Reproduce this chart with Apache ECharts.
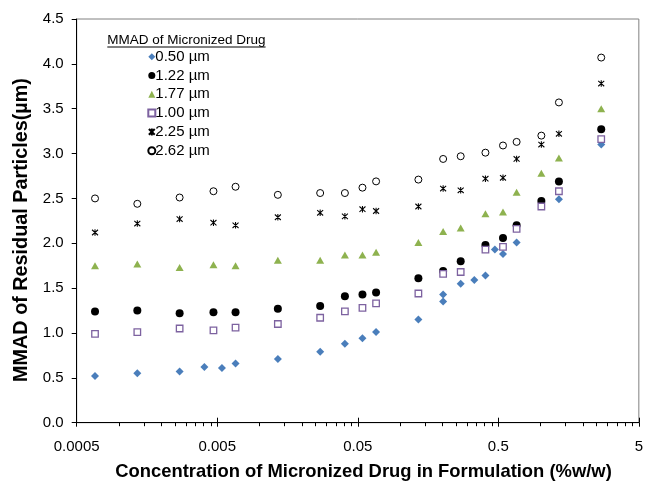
<!DOCTYPE html>
<html><head><meta charset="utf-8">
<script src="https://cdn.jsdelivr.net/npm/echarts@6/dist/echarts.min.js"></script>
<style>html,body{margin:0;padding:0;background:#fff}#c{width:646px;height:482px}</style>
</head><body><div id="c"></div>
<script>
// ---- data ----
const xTickLabels = ['0.0005', '0.005', '0.05', '0.5', '5'];
const yTickLabels = ['0.0', '0.5', '1.0', '1.5', '2.0', '2.5', '3.0', '3.5', '4.0', '4.5'];
const seriesNames = ['0.50 µm', '1.22 µm', '1.77 µm', '1.00 µm', '2.25 µm', '2.62 µm'];

// concentration (%w/w) for the 0.50 µm series
const conc050 = [0.000675, 0.00135, 0.0027, 0.00405, 0.0054, 0.00675, 0.0135, 0.027, 0.0405, 0.054, 0.0675,
  0.135, 0.2025, 0.2025, 0.27, 0.3375, 0.405, 0.4725, 0.54, 0.675, 1.35, 2.7];
// concentration (%w/w) for the other series
const concOther = [0.000675, 0.00135, 0.0027, 0.0047, 0.00675, 0.0135, 0.027, 0.0405, 0.054, 0.0675,
  0.135, 0.2025, 0.27, 0.405, 0.54, 0.675, 1.0125, 1.35, 2.7];

const mmad050 = [0.52, 0.55, 0.57, 0.62, 0.61, 0.66, 0.71, 0.79, 0.88, 0.94, 1.01,
  1.15, 1.43, 1.35, 1.55, 1.59, 1.64, 1.93, 1.88, 2.01, 2.49, 3.10];
const mmad122 = [1.24, 1.25, 1.22, 1.23, 1.23, 1.27, 1.30, 1.41, 1.43, 1.45, 1.61, 1.69, 1.80, 1.98, 2.06, 2.20, 2.47, 2.69, 3.27];
const mmad177 = [1.75, 1.77, 1.73, 1.76, 1.75, 1.81, 1.81, 1.87, 1.87, 1.90, 2.01, 2.13, 2.17, 2.33, 2.35, 2.57, 2.78, 2.95, 3.50];
const mmad100 = [0.99, 1.01, 1.05, 1.03, 1.06, 1.10, 1.17, 1.24, 1.28, 1.33, 1.44, 1.66, 1.68, 1.93, 1.96, 2.16, 2.41, 2.58, 3.16];
const mmad225 = [2.12, 2.22, 2.27, 2.23, 2.20, 2.29, 2.34, 2.30, 2.38, 2.36, 2.41, 2.61, 2.59, 2.72, 2.73, 2.94, 3.10, 3.22, 3.78];
const mmad262 = [2.50, 2.44, 2.51, 2.58, 2.63, 2.54, 2.56, 2.56, 2.62, 2.69, 2.71, 2.94, 2.97, 3.01, 3.09, 3.13, 3.20, 3.57, 4.07];

// ---- chart ----
const FONT = '"Liberation Sans", Arial, Helvetica, sans-serif';
const X_BASE = 0.0005; // axis minimum (log scale, decades from here)
const toX = c => Math.log10(c / X_BASE);
const pairs = (xs, ys) => xs.map((c, i) => [toX(c), ys[i]]);

const minorTicks = [];
for (let d = 0; d < xTickLabels.length - 1; d++) {
  for (let k = 2; k <= 9; k++) minorTicks.push(d + Math.log10(k));
}

const chart = echarts.init(document.getElementById('c'), null, {renderer: 'canvas'});

const titleText = 'MMAD of Micronized Drug';
const titleFont = '13.5px ' + FONT;
const cv = document.createElement('canvas').getContext('2d');
cv.font = titleFont;
const titleW = cv.measureText(titleText).width;

const starPath = 'path://M0,0L10,10M10,0L0,10M5,-1L5,11';

const baseX = {
  type: 'value', min: 0, max: xTickLabels.length - 1, interval: 1, position: 'bottom',
  splitLine: {show: false}
};

chart.setOption({
  animation: false,
  backgroundColor: '#fff',
  grid: {left: 76.7, right: 5.7, top: 19, bottom: 59.3, show: true, borderColor: '#808080', borderWidth: 1},
  xAxis: [
    Object.assign({}, baseX, {
      axisLine: {show: true, lineStyle: {color: '#000', width: 1}},
      axisTick: {show: true, inside: false, length: 4, lineStyle: {color: '#000'}},
      axisLabel: {show: true, margin: 17, color: '#000', fontSize: 15, fontFamily: FONT,
        formatter: v => xTickLabels[Math.round(v)]}
    }),
    Object.assign({}, baseX, {
      axisLine: {show: false},
      axisTick: {show: true, inside: true, length: 5, lineStyle: {color: '#000'}},
      axisLabel: {show: false}
    }),
    Object.assign({}, baseX, {
      axisLine: {show: false},
      axisTick: {show: true, inside: false, length: 3.5, customValues: minorTicks, lineStyle: {color: '#000'}},
      axisLabel: {show: false}
    })
  ],
  yAxis: {
    type: 'value', min: 0, max: 4.5, interval: 0.5,
    splitLine: {show: false},
    axisLine: {show: true, lineStyle: {color: '#000', width: 1}},
    axisTick: {show: true, inside: false, length: 5, lineStyle: {color: '#000'}},
    axisLabel: {margin: 13, color: '#000', fontSize: 15, fontFamily: FONT,
      formatter: v => yTickLabels[Math.round(v / 0.5)]}
  },
  legend: {
    orient: 'vertical', left: 147.3, top: 49.2, padding: 0,
    itemWidth: 7, itemHeight: 7, itemGap: 3.8,
    textStyle: {fontSize: 15, color: '#000', fontFamily: FONT, lineHeight: 15, padding: [0, 0, 0, -5]},
    data: seriesNames
  },
  series: [
    {name: seriesNames[0], type: 'scatter', symbol: 'diamond', symbolSize: [8, 8],
      itemStyle: {color: '#4a7ebb', opacity: 1}, data: pairs(conc050, mmad050)},
    {name: seriesNames[1], type: 'scatter', symbol: 'circle', symbolSize: 8,
      itemStyle: {color: '#000', opacity: 1}, data: pairs(concOther, mmad122)},
    {name: seriesNames[2], type: 'scatter', symbol: 'triangle', symbolSize: [8, 7],
      itemStyle: {color: '#8eb24f', opacity: 1}, data: pairs(concOther, mmad177)},
    {name: seriesNames[3], type: 'scatter', symbol: 'rect', symbolSize: [6.5, 6.5],
      itemStyle: {color: '#fff', borderColor: '#7d62a0', borderWidth: 1.3, opacity: 1}, data: pairs(concOther, mmad100)},
    {name: seriesNames[4], type: 'scatter', symbol: starPath, symbolSize: [6, 6.5],
      itemStyle: {color: 'rgba(0,0,0,0)', borderColor: '#000', borderWidth: 1.1, opacity: 1}, data: pairs(concOther, mmad225)},
    {name: seriesNames[5], type: 'scatter', symbol: 'circle', symbolSize: 7,
      itemStyle: {color: '#fff', borderColor: '#000', borderWidth: 1, opacity: 1}, data: pairs(concOther, mmad262)}
  ],
  graphic: [
    {type: 'text', x: 107.3, y: 40.7, style: {text: titleText, fill: '#000', font: titleFont, align: 'left', verticalAlign: 'middle'}},
    {type: 'line', shape: {x1: 107.3, y1: 47, x2: 107.3 + titleW, y2: 47}, style: {stroke: '#000', lineWidth: 1}},
    {type: 'text', x: 21.7, y: 230, rotation: Math.PI / 2,
      style: {text: 'MMAD of Residual Particles(µm)', fill: '#000', font: 'bold 19.8px ' + FONT, align: 'center', verticalAlign: 'middle'}},
    {type: 'text', x: 363.5, y: 471.7,
      style: {text: 'Concentration of Micronized Drug in Formulation (%w/w)', fill: '#000', font: 'bold 18.4px ' + FONT, align: 'center', verticalAlign: 'middle'}}
  ]
});
</script>
</body></html>
